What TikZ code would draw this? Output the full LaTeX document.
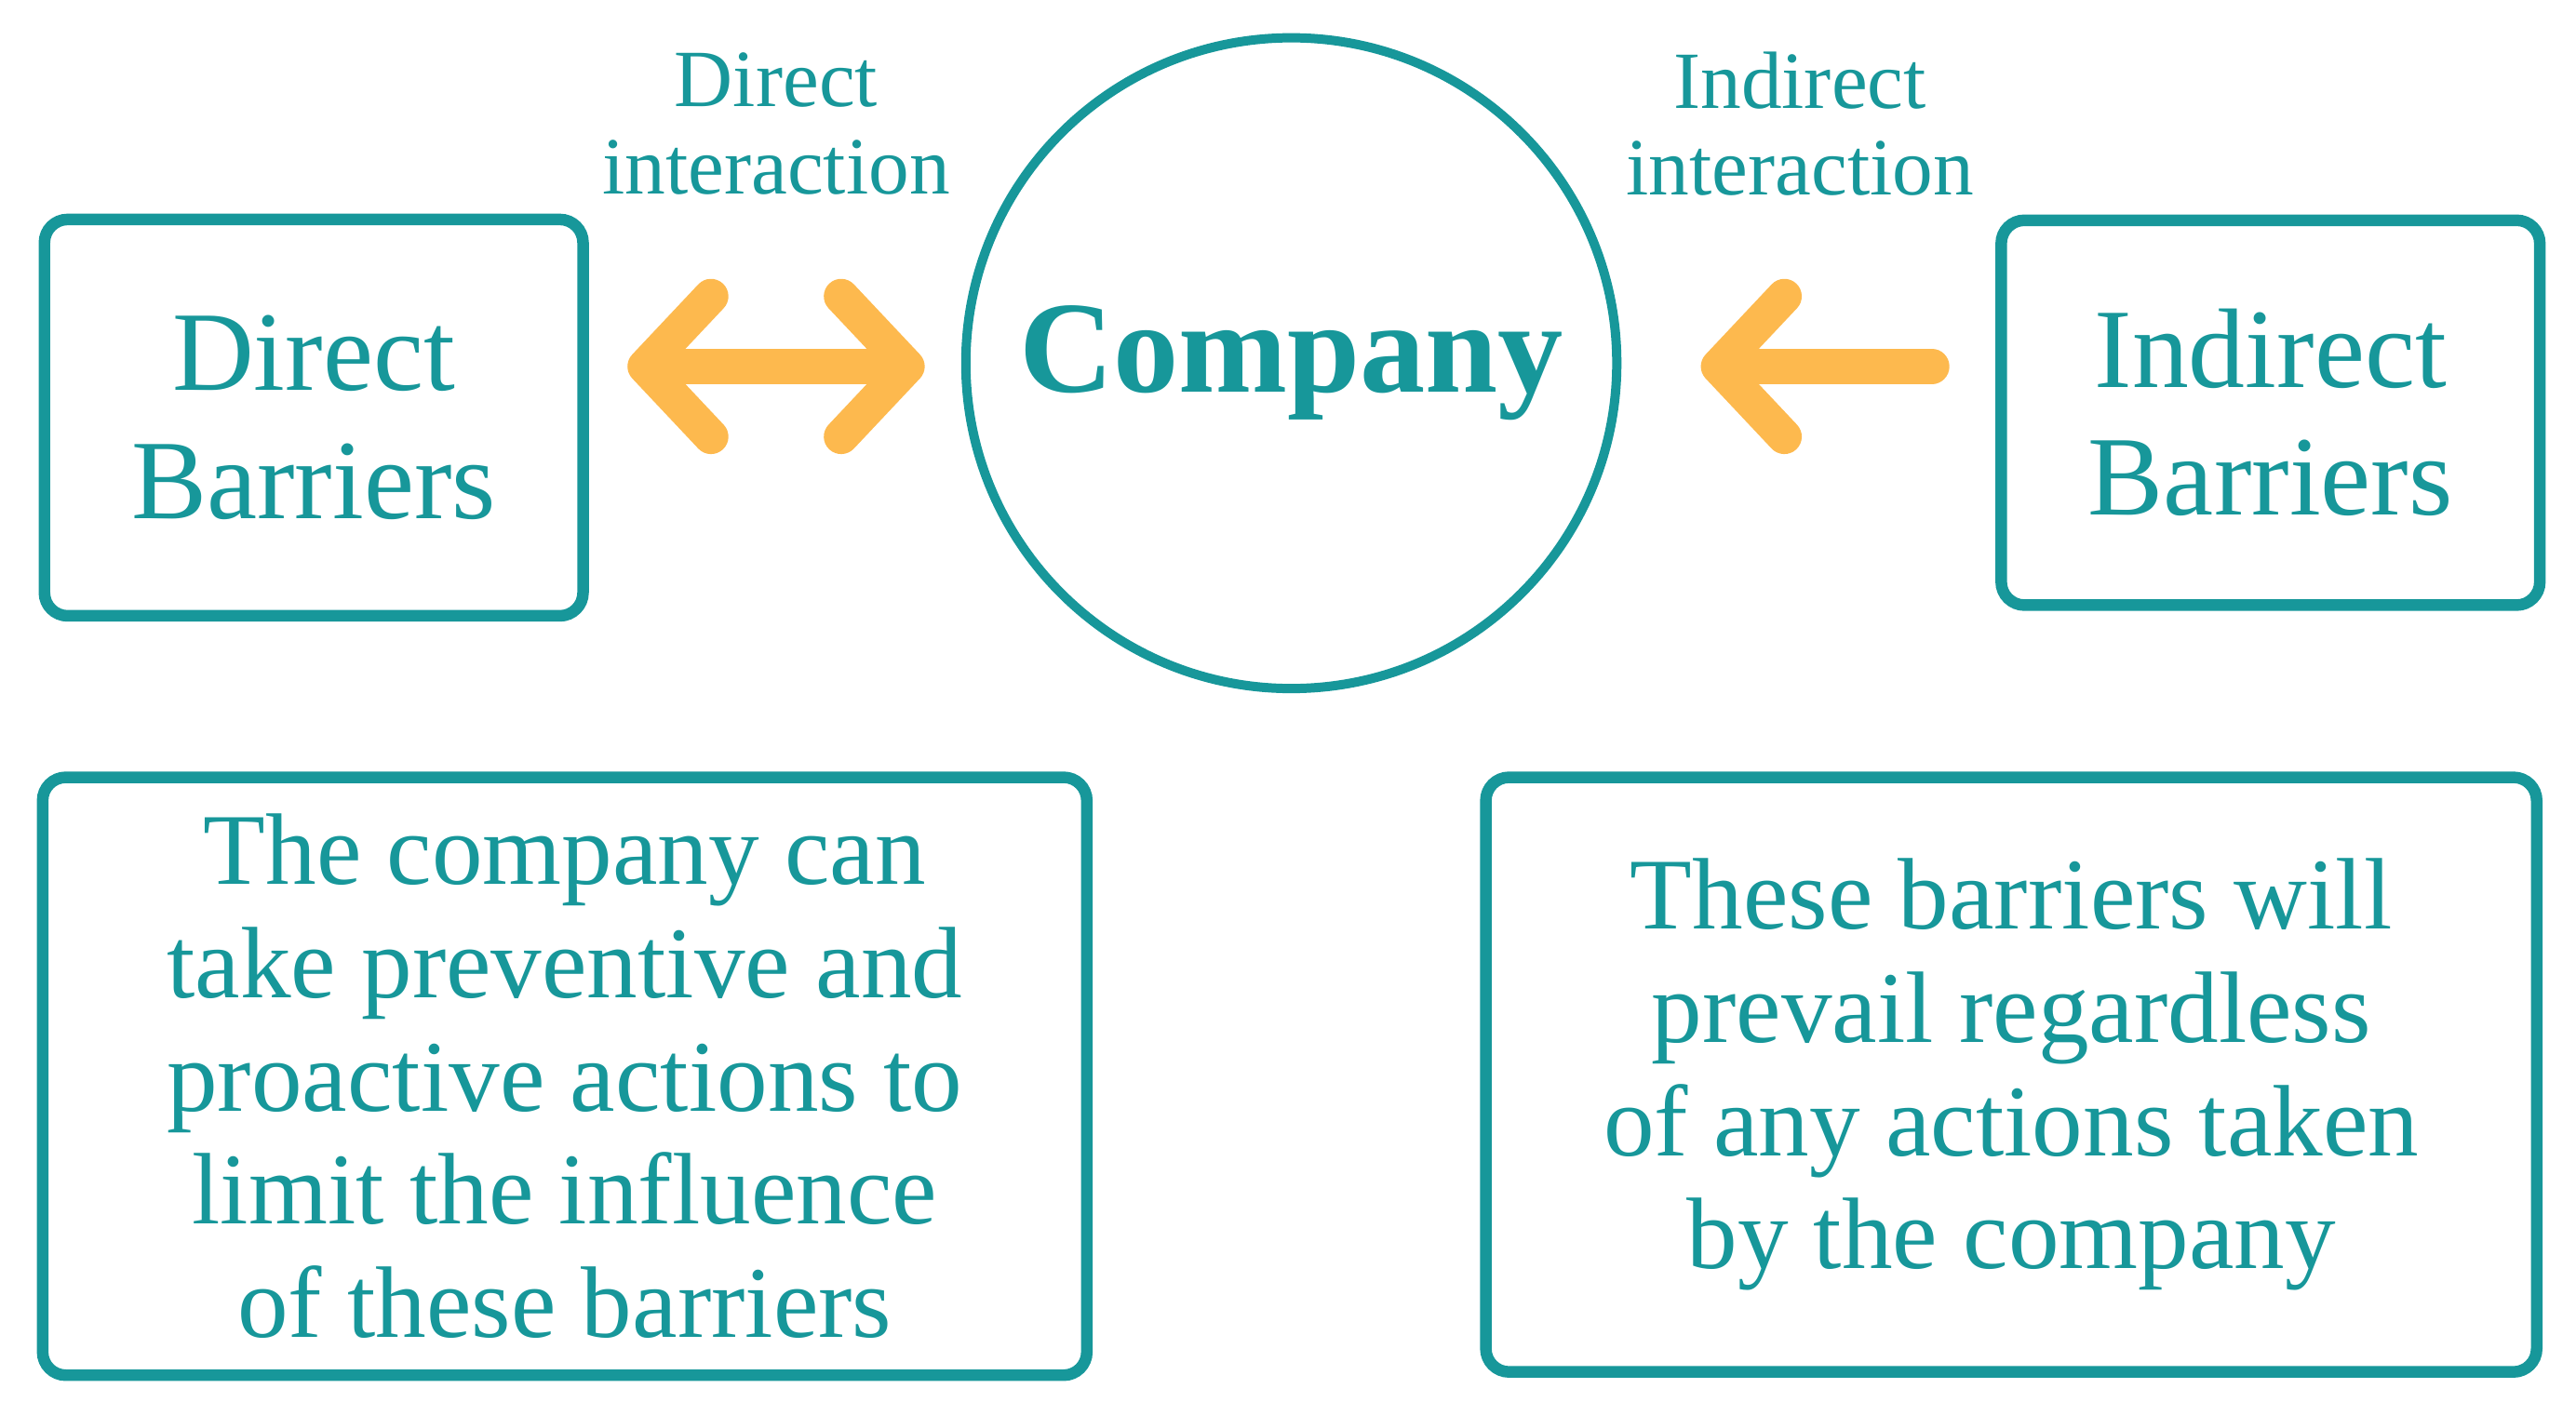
\documentclass[tikz,border=0pt]{standalone}
\usepackage{fontspec}
\setmainfont{Liberation Serif}
\usetikzlibrary{arrows.meta}
\definecolor{teal1}{HTML}{17979A}
\definecolor{orange1}{HTML}{FDB94E}
\tikzset{
  box/.style={draw=teal1, line width=2pt, rounded corners=4pt, text=teal1, align=center, inner sep=0pt},
  tip/.style={Straight Barb[length=0.4cm, width=0.85cm, line join=round, line cap=round]},
  flow/.style={orange1, line width=6pt, line cap=round, {Straight Barb[length=0.4cm, width=0.85cm, line join=round, line cap=round]}-{Straight Barb[length=0.4cm, width=0.85cm, line join=round, line cap=round]}},
  lbl/.style={text=teal1, align=center, font=\fontsize{14}{15}\selectfont}
}
\begin{document}
\begin{tikzpicture}[x=0.01cm,y=-0.01cm]
  \useasboundingbox (0,0) rectangle (1560,857);

  % upper row
  \node[box, minimum width=3.26cm, minimum height=2.4cm, font=\fontsize{19.5}{22}\selectfont] (direct) at (190,253) {Direct\\Barriers};
  \node[draw=teal1, line width=1.6pt, circle, minimum size=3.94cm, text=teal1, font=\bfseries\fontsize{22.5}{26}\selectfont] (company) at (782,220) {Company};
  \node[box, minimum width=3.26cm, minimum height=2.33cm, font=\fontsize{19.5}{22}\selectfont] (indirect) at (1375,250) {Indirect\\Barriers};

  % connectors
  \coordinate (a1) at (380,222);
  \coordinate (a2) at (560,222);
  \coordinate (b1) at (1170,222);
  \coordinate (b2) at (1030,222);
  \draw[flow] (a1) -- (a2);
  \draw[flow, {Straight Barb[length=0.4cm, width=0.85cm, line join=round, line cap=round]}-] (b2) -- (b1);

  % labels
  \node[lbl] (dlbl) at (470,75) {Direct\\interaction};
  \node[lbl] (ilbl) at (1090,75) {Indirect\\interaction};

  % lower row
  \node[box, minimum width=6.32cm, minimum height=3.62cm, font=\fontsize{17.5}{19.5}\selectfont] (dnote) at (342,652)
    {The company can\\take preventive and\\proactive actions to\\limit the influence\\of these barriers};
  \node[box, minimum width=6.36cm, minimum height=3.6cm, font=\fontsize{17.5}{19.5}\selectfont] (inote) at (1218,651)
    {These barriers will\\prevail regardless\\of any actions taken\\by the company};
\end{tikzpicture}
\end{document}
